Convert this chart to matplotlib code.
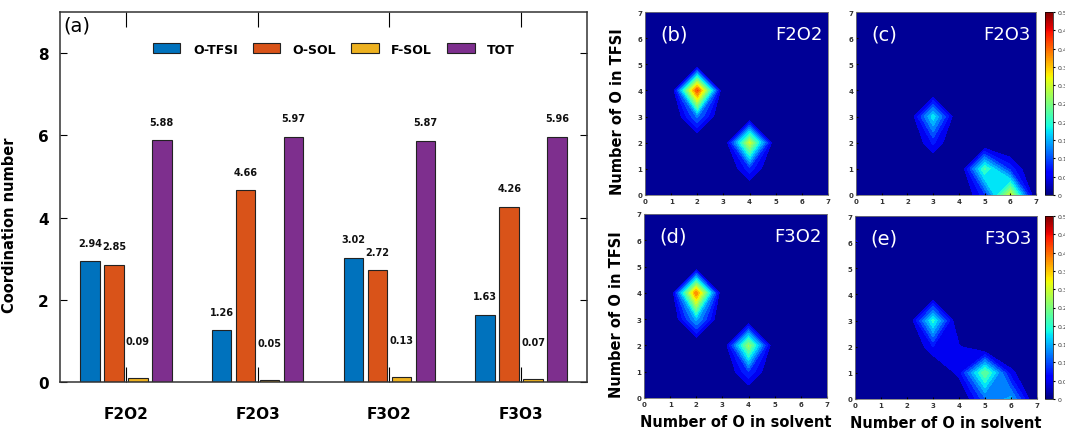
import numpy as np
import matplotlib
matplotlib.use('Agg')
import matplotlib.pyplot as plt
from matplotlib import cm
from matplotlib.colors import Normalize

# ---- dados do painel (a): numero de coordenacao
samples = ['F2O2', 'F2O3', 'F3O2', 'F3O3']
o_tfsi = [2.94, 1.26, 3.02, 1.63]
o_sol = [2.85, 4.66, 2.72, 4.26]
f_sol = [0.09, 0.05, 0.13, 0.07]
tot = [5.88, 5.97, 5.87, 5.96]
series_names = ['O-TFSI', 'O-SOL', 'F-SOL', 'TOT']
bar_colors = ['#0072BD', '#D95319', '#EDB120', '#7E2F8E']

# ---- dados dos mapas (b)-(e): (O no solvente, O no TFSI, fracao); o resto e zero
cells_f2o2 = [(2, 4, 0.43), (2, 3, 0.13), (4, 2, 0.31), (4, 1, 0.09)]
cells_f2o3 = [(3, 3, 0.19), (3, 2, 0.08), (5, 1, 0.23), (6, 0, 0.31),
              (5, 0, 0.09), (6, 1, 0.09)]
cells_f3o2 = [(2, 4, 0.40), (2, 3, 0.16), (4, 2, 0.28), (4, 1, 0.10)]
cells_f3o3 = [(3, 3, 0.21), (3, 2, 0.075), (4, 2, 0.055), (4, 1, 0.06),
              (5, 1, 0.25), (6, 0, 0.16), (5, 0, 0.12), (6, 1, 0.06),
              (0, 6, 0.055)]
map_tags = ['(b)', '(c)', '(d)', '(e)']
map_names = ['F2O2', 'F2O3', 'F3O2', 'F3O3']
map_cells = [cells_f2o2, cells_f2o3, cells_f3o2, cells_f3o3]
n_oxygen = np.arange(8)

W, H = 1065, 435
fig = plt.figure(figsize=(W / 100, H / 100), dpi=100)


def box(x0, y0, w, h):
    # caixa em pixeis (origem em cima a esquerda) -> fracao da figura
    return [x0 / W, 1 - (y0 + h) / H, w / W, h / H]


# ---------------- painel (a)
ax = fig.add_axes(box(60, 13, 527, 370))
x = np.arange(len(samples))
step, width = 0.182, 0.148
for i, (vals, name, c) in enumerate(zip([o_tfsi, o_sol, f_sol, tot], series_names, bar_colors)):
    pos = x + (i - 1.5) * step
    ax.bar(pos, vals, width, color=c, edgecolor='#222222', linewidth=0.8, label=name)
    off = 0.9 if name == 'F-SOL' else 0.45
    for p, v in zip(pos, vals):
        ax.text(p, v + off, f'{v:.2f}', ha='center', va='center',
                fontsize=7, fontweight='bold', color='#111111')

ax.set_xlim(-0.5, 3.5)
ax.set_ylim(0, 9)
ax.set_yticks([0, 2, 4, 6, 8])
ax.set_xticks(x, samples)
ax.tick_params(axis='y', direction='in', length=5, right=True, labelsize=11, pad=8)
ax.tick_params(axis='x', direction='in', length=11, top=True, labelsize=11, pad=17)
for lbl in ax.get_xticklabels() + ax.get_yticklabels():
    lbl.set_fontweight('bold')
for s in ax.spines.values():
    s.set_color('#333333')
    s.set_linewidth(1.1)
ax.set_ylabel('Coordination number', fontsize=10.5, fontweight='bold')
ax.yaxis.set_label_coords(-43 / 527, 0.425)
ax.legend(ncol=4, loc='center', bbox_to_anchor=(0.52, 0.9), frameon=False,
          prop={'weight': 'bold', 'size': 9}, handlelength=2.2, handleheight=0.8,
          handletextpad=1.0, columnspacing=1.2)
ax.text(0.006, 0.965, '(a)', transform=ax.transAxes, fontsize=14, va='center', ha='left')

# ---------------- paineis (b)-(e)
levels = np.concatenate([[0], np.arange(0.05, 0.501, 0.025)])
band_colors = [cm.jet(max(l, 0.01) / 0.5) for l in levels[:-1]]
hm_boxes = [(645, 13, 183, 183), (856, 13, 180, 183), (644, 215, 183, 184), (855, 217, 182, 183)]
cb_boxes = [(1045, 13, 8, 183), (1045, 217, 8, 183)]

for k, (tag, name, cells, bx) in enumerate(zip(map_tags, map_names, map_cells, hm_boxes)):
    axh = fig.add_axes(box(*bx))
    Z = np.zeros((len(n_oxygen), len(n_oxygen)))
    for xs, yt, v in cells:
        Z[yt, xs] = v
    axh.contourf(n_oxygen, n_oxygen, Z, levels=levels, colors=band_colors)
    axh.set_xlim(0, 7)
    axh.set_ylim(0, 7)
    axh.set_xticks(n_oxygen)
    axh.set_yticks(n_oxygen)
    axh.tick_params(labelsize=5, length=1.5, direction='in', pad=2, labelcolor='#333333')
    for lbl in axh.get_xticklabels() + axh.get_yticklabels():
        lbl.set_fontweight('bold')
    for s in axh.spines.values():
        s.set_color('#777777')
        s.set_linewidth(0.6)
    axh.text(0.16, 0.88, tag, transform=axh.transAxes, color='white', fontsize=14,
             ha='center', va='center')
    axh.text(0.97, 0.88, name, transform=axh.transAxes, color='white', fontsize=13,
             ha='right', va='center')
    if k in (0, 2):
        axh.set_ylabel('Number of O in TFSI', fontsize=10.5, fontweight='bold')
        axh.yaxis.set_label_coords(-20 / 183, 0.46)
    if k in (2, 3):
        axh.set_xlabel('Number of O in solvent', fontsize=10.5, fontweight='bold')
        axh.xaxis.set_label_coords(0.5, -0.085)

for cb in cb_boxes:
    cax = fig.add_axes(box(*cb))
    cbar = fig.colorbar(cm.ScalarMappable(norm=Normalize(0, 0.5), cmap='jet'), cax=cax,
                        ticks=np.arange(0, 0.501, 0.05))
    cbar.ax.set_yticklabels([f'{t:g}' for t in np.round(np.arange(0, 0.501, 0.05), 2)])
    cbar.ax.tick_params(labelsize=4.5, length=1.5, pad=2, labelcolor='#333333')
    cbar.outline.set_linewidth(0.5)

fig.savefig('out.png', dpi=100)
